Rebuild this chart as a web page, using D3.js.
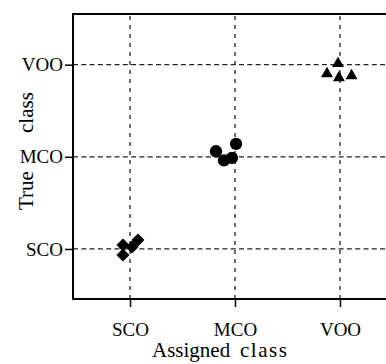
<!DOCTYPE html>
<html>
<head>
<meta charset="utf-8">
<script src="https://cdn.jsdelivr.net/npm/d3@7"></script>
<style>
  body { margin: 0; background: #fff; }
  svg text { font-family: "Liberation Serif", "Times New Roman", serif; fill: #000; }
</style>
</head>
<body>
<div id="chart"></div>
<script>
'use strict';

// class labels (1 = SCO, 2 = MCO, 3 = VOO)
var classes = ["SCO", "MCO", "VOO"];

// assigned (x) / true (y) class positions, jittered as in the picture
var scoX = [0.933, 0.933, 1.019, 1.076];
var scoY = [1.043, 0.935, 1.022, 1.098];
var mcoX = [1.819, 1.895, 1.971, 2.010];
var mcoY = [2.060, 1.962, 1.989, 2.141];
var vooX = [2.981, 2.876, 2.990, 3.110];
var vooY = [3.011, 2.902, 2.859, 2.880];

(function() {
    var W = 386, H = 364;
    var margin = { left: 73, top: 14, right: -11, bottom: 65 };

    var svg = d3.select("#chart")
        .append("svg")
            .attr("width", W)
            .attr("height", H);

    var x = d3.scaleLinear()
        .domain([0.457, 3.543])
        .range([margin.left, W - margin.right]);

    var y = d3.scaleLinear()
        .domain([0.457, 3.55])
        .range([H - margin.bottom, margin.top]);

    var ticks = [1, 2, 3];

    // grid lines
    svg.append("g").selectAll("line")
        .data(ticks)
        .enter().append("line")
        .attr("x1", function(d) { return x(d); })
        .attr("x2", function(d) { return x(d); })
        .attr("y1", y.range()[0])
        .attr("y2", y.range()[1])
        .attr("stroke", "#222")
        .attr("stroke-width", 1.3)
        .attr("stroke-dasharray", "4,5");

    svg.append("g").selectAll("line")
        .data(ticks)
        .enter().append("line")
        .attr("x1", x.range()[0])
        .attr("x2", x.range()[1])
        .attr("y1", function(d) { return y(d); })
        .attr("y2", function(d) { return y(d); })
        .attr("stroke", "#222")
        .attr("stroke-width", 1.3)
        .attr("stroke-dasharray", "5,3.3");

    // axes
    var xAxis = d3.axisBottom(x)
        .tickValues(ticks)
        .tickFormat(function(d) { return classes[d - 1]; })
        .tickSize(8)
        .tickPadding(16);

    var yAxis = d3.axisLeft(y)
        .tickValues(ticks)
        .tickFormat(function(d) { return classes[d - 1]; })
        .tickSize(8)
        .tickPadding(2);

    var gx = svg.append("g")
        .attr("transform", "translate(0," + y.range()[0] + ")")
        .call(xAxis);
    var gy = svg.append("g")
        .attr("transform", "translate(" + x.range()[0] + ",0)")
        .call(yAxis);

    [gx, gy].forEach(function(g) {
        g.select(".domain").remove();
        g.selectAll(".tick line").attr("stroke", "#000").attr("stroke-width", 1.5);
        g.selectAll(".tick text")
            .attr("font-family", null)
            .attr("font-size", 19);
    });

    // frame (left, top, bottom; right edge runs off the page)
    svg.append("path")
        .attr("d", "M" + (W + 5) + "," + y.range()[1] +
                   "H" + x.range()[0] +
                   "V" + y.range()[0] +
                   "H" + (W + 5))
        .attr("fill", "none")
        .attr("stroke", "#000")
        .attr("stroke-width", 2);

    // points
    function toPts(xs, ys) {
        return xs.map(function(v, i) { return { x: v, y: ys[i] }; });
    }

    svg.append("g").selectAll("path")
        .data(toPts(scoX, scoY))
        .enter().append("path")
        .attr("d", d3.symbol().type(d3.symbolSquare).size(85))
        .attr("transform", function(d) {
            return "translate(" + x(d.x) + "," + y(d.y) + ") rotate(45)";
        })
        .attr("fill", "#000");

    svg.append("g").selectAll("path")
        .data(toPts(mcoX, mcoY))
        .enter().append("path")
        .attr("d", d3.symbol().type(d3.symbolCircle).size(120))
        .attr("transform", function(d) {
            return "translate(" + x(d.x) + "," + y(d.y) + ")";
        })
        .attr("fill", "#000");

    svg.append("g").selectAll("path")
        .data(toPts(vooX, vooY))
        .enter().append("path")
        .attr("d", d3.symbol().type(d3.symbolTriangle).size(62))
        .attr("transform", function(d) {
            return "translate(" + x(d.x) + "," + y(d.y) + ")";
        })
        .attr("fill", "#000");

    // axis titles (words spaced wide apart as in the original)
    var xt = svg.append("text")
        .attr("y", 357)
        .attr("font-size", 21);
    xt.append("tspan").attr("x", 152).text("Assigned");
    xt.append("tspan").attr("x", 240).attr("letter-spacing", 1.5).text("class");

    var yt = svg.append("text")
        .attr("transform", "translate(33,0) rotate(-90)")
        .attr("font-size", 21);
    yt.append("tspan").attr("x", -210).text("True");
    yt.append("tspan").attr("x", -133).text("class");
})();
</script>
</body>
</html>
